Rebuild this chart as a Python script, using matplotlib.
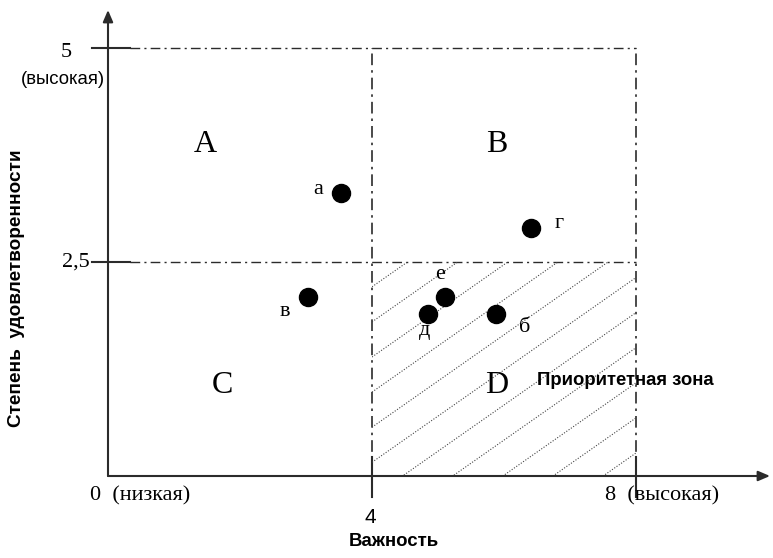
import numpy as np
import matplotlib.pyplot as plt

# точки: важность / степень удовлетворенности
labels = ['а', 'г', 'в', 'е', 'д', 'б']
importance = [3.53, 6.41, 3.03, 5.11, 4.85, 5.88]
satisfaction = [3.31, 2.90, 2.09, 2.09, 1.89, 1.89]
# смещение подписи от точки, px
offsets = [(-23, 3), (28, 4), (-23, -14), (-5, 23), (-4, -16), (29, -13)]

quadrants = ['A', 'B', 'C', 'D']
quad_x = [1.47, 5.89, 1.73, 5.89]
quad_y = [3.87, 3.87, 1.06, 1.06]

x_mid, x_max = 4, 8
y_mid, y_max = 2.5, 5

serif = 'Liberation Serif'
sans = 'Liberation Sans'
col = '#2b2b2b'

fig = plt.figure(figsize=(7.73, 5.58), dpi=100)
ax = fig.add_axes([108 / 773, 82 / 558, 662 / 773, 466 / 558])
ax.set_xlim(0, 662 / 66)
ax.set_ylim(0, 466 / 85.6)
ax.axis('off')

# оси со стрелками
ax.annotate('', xy=(662 / 66, 0), xytext=(0, 0),
            arrowprops=dict(arrowstyle='-|>,head_length=0.7,head_width=0.3', color=col, lw=1.5,
                            shrinkA=0, shrinkB=0), annotation_clip=False)
ax.annotate('', xy=(0, 466 / 85.6), xytext=(0, 0),
            arrowprops=dict(arrowstyle='-|>,head_length=0.7,head_width=0.3', color=col, lw=1.5,
                            shrinkA=0, shrinkB=0), annotation_clip=False)

# штрихпунктирные границы квадрантов
dd = (0, (7, 3, 1.5, 3))
ax.plot([0.33, x_max], [y_max, y_max], color=col, lw=1, ls=dd)
ax.plot([0.33, x_max], [y_mid, y_mid], color=col, lw=1, ls=dd)
ax.plot([x_mid, x_mid], [0, y_max], color=col, lw=1.2, ls=dd)
ax.plot([x_max, x_max], [0, y_max], color=col, lw=1.2, ls=dd)

# засечки
for yy in [y_max, y_mid]:
    ax.plot([-0.24, 0.33], [yy, yy], color=col, lw=1.5, clip_on=False)
for xx in [x_mid, x_max]:
    ax.plot([xx, xx], [0.22, -0.25], color=col, lw=1.5, clip_on=False)

# штриховка приоритетной зоны
slope = 0.7 * 66 / 85.6
rect = plt.Rectangle((x_mid, 0), x_max - x_mid, y_mid, fc='none', ec='none')
ax.add_patch(rect)
for b in np.arange(2.21, -2.3, -0.41):
    xs = np.array([x_mid, x_max])
    ln, = ax.plot(xs, b + slope * (xs - x_mid), color='#444444', lw=0.8, ls=(0, (1, 1.5)))
    ln.set_clip_path(rect)

# точки
ax.plot(importance, satisfaction, 'o', color='black', ms=13)
for lab, x, y, off in zip(labels, importance, satisfaction, offsets):
    ax.annotate(lab, (x, y), xytext=(off[0] * 0.72, off[1] * 0.72), textcoords='offset points',
                ha='center', va='center', fontsize=16, family=serif)

for q, x, y in zip(quadrants, quad_x, quad_y):
    ax.text(x, y, q, ha='center', va='center', fontsize=23, family=serif)

ax.text(6.5, 1.11, 'Приоритетная зона', ha='left', va='center', fontsize=13.3,
        family=sans, fontweight='bold')

# подписи осей
ax.text(-0.64, y_max - 0.05, '5', ha='center', va='center', fontsize=16, family=serif)
ax.text(-0.68, 4.63, '(высокая)', ha='center', va='center', fontsize=13.4, family=sans)
ax.text(-0.28, y_mid, '2,5', ha='right', va='center', fontsize=16, family=serif)
ax.text(-0.27, -0.23, '0  (низкая)', ha='left', va='center', fontsize=16, family=serif)
ax.text(x_mid - 0.03, -0.48, '4', ha='center', va='center', fontsize=15, family=sans)
ax.text(7.53, -0.23, '8  (высокая)', ha='left', va='center', fontsize=16, family=serif)
ax.text(4.33, -0.76, 'Важность', ha='center', va='center', fontsize=13.4, family=sans,
        fontweight='bold')
fig.text(17 / 773, 1 - 288 / 558, 'Степень  удовлетворенности', rotation=90, ha='center',
         va='center', fontsize=13.7, family=sans, fontweight='bold')

fig.savefig('out.png', dpi=100)
